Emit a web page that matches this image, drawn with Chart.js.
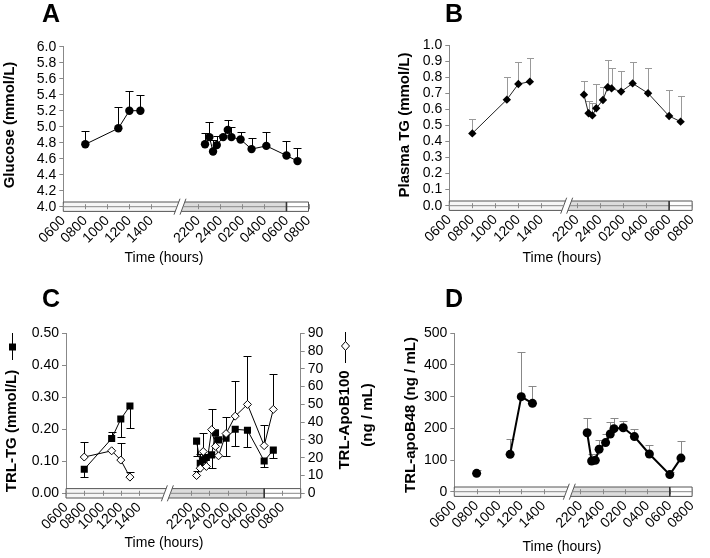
<!DOCTYPE html>
<html>
<head>
<meta charset="utf-8">
<script src="https://cdn.jsdelivr.net/npm/chart.js@4.4.1/dist/chart.umd.min.js"></script>
<style>
  body { margin: 0; background: #fff; }
  #fig { position: relative; width: 710px; height: 558px; background: #fff; overflow: hidden; }
  canvas { position: absolute; }
</style>
</head>
<body>
<div id="fig">
  <canvas id="chartA" width="355" height="279" style="left:0;top:0"></canvas>
  <canvas id="chartB" width="355" height="279" style="left:355px;top:0"></canvas>
  <canvas id="chartC" width="390" height="279" style="left:0;top:279px"></canvas>
  <canvas id="chartD" width="355" height="279" style="left:355px;top:279px"></canvas>
</div>
<script>
// ===== Time axis (clock hours, night continues past 24) =====
const clockTicks  = [6, 8, 10, 12, 14, 22, 24, 26, 28, 30, 32];
const clockLabels = ['0600', '0800', '1000', '1200', '1400', '2200', '2400', '0200', '0400', '0600', '0800'];
const lightsOn = 30; // 0600 next morning, end of the grey night band

const dayHours   = [8, 11, 12, 13];
const nightHours = [22.6, 23.0, 23.33, 23.67, 24.25, 24.67, 25.0, 25.83, 26.83, 28.17, 30.0, 31.0];

// ===== A: glucose (mmol/L) =====
const glucoseDay      = [4.78, 4.98, 5.20, 5.20];
const glucoseDayErr   = [4.95, 5.25, 5.45, 5.40];
const glucoseNight    = [4.78, 4.87, 4.69, 4.77, 4.87, 4.96, 4.87, 4.84, 4.72, 4.76, 4.64, 4.57];
const glucoseNightErr = [4.92, 5.06, 4.83, 4.88, 4.90, 5.08, 5.00, 4.93, 4.86, 4.93, 4.82, 4.74];
const glucoseTicks    = [4.0, 4.2, 4.4, 4.6, 4.8, 5.0, 5.2, 5.4, 5.6, 5.8, 6.0];

// ===== B: plasma TG (mmol/L) =====
const plasmaTgDay      = [0.45, 0.66, 0.757, 0.772];
const plasmaTgDayErr   = [0.537, 0.799, 0.896, 0.919];
const plasmaTgNight    = [0.691, 0.575, 0.562, 0.606, 0.658, 0.737, 0.73, 0.71, 0.761, 0.70, 0.558, 0.523];
const plasmaTgNightErr = [0.774, 0.654, 0.641, 0.757, 0.74, 0.905, 0.859, 0.836, 0.894, 0.859, 0.718, 0.68];
const plasmaTgTicks    = [0, 0.1, 0.2, 0.3, 0.4, 0.5, 0.6, 0.7, 0.8, 0.9, 1.0];

// ===== C: TRL-TG (mmol/L) and TRL-ApoB100 (ng/mL) =====
const trlTgDay      = [0.075, 0.171, 0.232, 0.273];
const trlTgDayErr   = [0.052, 0.193, 0.175, 0.203];
const trlTgNight    = [0.163, 0.094, 0.104, 0.112, 0.12, 0.189, 0.167, 0.172, 0.20, 0.197, 0.101, 0.135];
const trlTgNightErr = [0.117, 0.08, null, null, 0.078, null, null, 0.117, 0.148, 0.144, 0.081, 0.109];
const trlTgTicks    = [0, 0.1, 0.2, 0.3, 0.4, 0.5];

const apoB100Day      = [20.4, 23.9, 18.7, 9.1];
const apoB100DayErr   = [28.6, null, 28.3, 12.2];
const apoB100Night    = [10.0, 14.1, 23.5, 15.1, 35.8, 26.4, 21.1, 33.6, 43.4, 50.0, 26.8, 47.2];
const apoB100NightErr = [12.5, 22, 34, null, 47.7, null, null, 43, 63.2, 77.3, 38.7, 67];
const apoB100Ticks    = [0, 10, 20, 30, 40, 50, 60, 70, 80, 90];

// ===== D: TRL-apoB48 (ng/mL) =====
const apoB48Day      = [58, 118, 300, 279];
const apoB48DayErr   = [68, 165, 442, 335];
const apoB48Night    = [186, 97, 99, 134, 155, 182, 199, 202, 174, 119, 54, 106];
const apoB48NightErr = [232, 118, 118, 163, 182, 221, 232, 224, 197, 146, 63, 161];
const apoB48Ticks    = [0, 100, 200, 300, 400, 500];

Chart.defaults.font.family = '"Liberation Sans", Arial, Helvetica, sans-serif';
Chart.defaults.color = '#000';
Chart.defaults.animation = false;

// hours -> position on the broken axis (night part shifted left)
function axisPos(h, p) {
  return h < 18 ? h - 6 : p.at2200 + (h - 22);
}

function series(hours, values, errEnd, p, style) {
  return Object.assign({
    data: hours.map((h, i) => ({ x: axisPos(h, p), y: values[i] })),
    errEnd: errEnd,
    showLine: true,
    borderWidth: 1,
    pointBorderWidth: 0
  }, style);
}

// ===== drawing helpers: error bars, light/dark band, axis titles =====
function drawBandAndErrors(chart, p) {
  const ctx = chart.ctx;
  const xs = chart.scales.x, ys = chart.scales.y;
  const y0 = ys.getPixelForValue(ys.min);
  const h = 4.7, s = 1.8;
  const xL = xs.getPixelForValue(0), xR = xs.getPixelForValue(p.xMax);
  const xb = xs.getPixelForValue(p.breakAt);
  const b1 = xb - 3, b2 = xb + 3;
  const xOn = xs.getPixelForValue(axisPos(lightsOn, p));
  ctx.save();
  // day section
  ctx.beginPath();
  ctx.moveTo(xL, y0 - h); ctx.lineTo(b1 + s, y0 - h); ctx.lineTo(b1 - s, y0 + h); ctx.lineTo(xL, y0 + h); ctx.closePath();
  ctx.fillStyle = '#f6f6f6'; ctx.fill();
  // night section
  ctx.beginPath();
  ctx.moveTo(b2 + s, y0 - h); ctx.lineTo(xOn, y0 - h); ctx.lineTo(xOn, y0 + h); ctx.lineTo(b2 - s, y0 + h); ctx.closePath();
  ctx.fillStyle = '#dcdcdc'; ctx.fill();
  ctx.fillStyle = '#fff';
  ctx.fillRect(xOn, y0 - h, xR - xOn, 2 * h);
  // outlines
  ctx.strokeStyle = '#555'; ctx.lineWidth = 1;
  ctx.beginPath();
  ctx.moveTo(b1 + s, y0 - h); ctx.lineTo(xL, y0 - h); ctx.lineTo(xL, y0 + h); ctx.lineTo(b1 - s, y0 + h);
  ctx.moveTo(b2 + s, y0 - h); ctx.lineTo(xR, y0 - h); ctx.lineTo(xR, y0 + h); ctx.lineTo(b2 - s, y0 + h);
  ctx.stroke();
  // break marks
  ctx.beginPath();
  [b1, b2].forEach(b => { ctx.moveTo(b - 3, y0 + 8); ctx.lineTo(b + 3, y0 - 8); });
  ctx.stroke();
  // centre line and ticks
  ctx.strokeStyle = '#888';
  ctx.beginPath();
  ctx.moveTo(xL, y0); ctx.lineTo(b1, y0);
  ctx.moveTo(b2, y0); ctx.lineTo(xR, y0);
  clockTicks.forEach(t => {
    const x = Math.round(xs.getPixelForValue(axisPos(t, p))) + 0.5;
    ctx.moveTo(x, y0 - 2.5); ctx.lineTo(x, y0 + 2.5);
  });
  ctx.stroke();
  // lights-on divider
  ctx.strokeStyle = '#333'; ctx.lineWidth = 1.6;
  ctx.beginPath(); ctx.moveTo(xOn, y0 - h); ctx.lineTo(xOn, y0 + h); ctx.stroke();

  // error bars
  chart.data.datasets.forEach((ds, di) => {
    if (!ds.errEnd) return;
    const sc = chart.scales[ds.yAxisID || 'y'];
    const meta = chart.getDatasetMeta(di);
    ctx.strokeStyle = ds.errColor; ctx.lineWidth = 1;
    meta.data.forEach((pt, i) => {
      const e = ds.errEnd[i];
      if (e == null) return;
      const x = Math.round(pt.x) + 0.5;
      const ye = Math.round(sc.getPixelForValue(e)) + 0.5;
      ctx.beginPath();
      ctx.moveTo(x, pt.y); ctx.lineTo(x, ye);
      ctx.moveTo(x - p.cap, ye); ctx.lineTo(x + p.cap, ye);
      ctx.stroke();
    });
  });
  ctx.restore();
}

function drawTexts(chart, p) {
  const ctx = chart.ctx;
  ctx.save();
  ctx.fillStyle = '#000';
  ctx.font = 'bold 25px "Liberation Sans", Arial, sans-serif';
  ctx.textAlign = 'left'; ctx.textBaseline = 'alphabetic';
  ctx.fillText(p.letter, p.letterX, p.letterY);
  ctx.font = '14px "Liberation Sans", Arial, sans-serif';
  ctx.textAlign = 'center';
  ctx.fillText('Time (hours)', p.timeX, p.timeY);
  ctx.font = 'bold 15px "Liberation Sans", Arial, sans-serif';
  ctx.textBaseline = 'middle';
  p.titles.forEach(t => {
    ctx.save();
    ctx.translate(t.x, t.y);
    ctx.rotate(-Math.PI / 2);
    ctx.fillText(t.text, 0, 0);
    ctx.restore();
  });
  (p.keys || []).forEach(k => {
    ctx.strokeStyle = '#000'; ctx.lineWidth = 1;
    ctx.beginPath(); ctx.moveTo(k.x + 0.5, k.y1); ctx.lineTo(k.x + 0.5, k.y2); ctx.stroke();
    ctx.beginPath();
    if (k.shape === 'square') {
      ctx.rect(k.x - 3, k.ym - 3.5, 7, 7);
      ctx.fillStyle = '#000'; ctx.fill();
    } else {
      ctx.moveTo(k.x + 0.5, k.ym - 4.5); ctx.lineTo(k.x + 4.5, k.ym); ctx.lineTo(k.x + 0.5, k.ym + 4.5); ctx.lineTo(k.x - 3.5, k.ym); ctx.closePath();
      ctx.fillStyle = '#fff'; ctx.fill(); ctx.stroke();
    }
  });
  ctx.restore();
}

function yAxis(ticks, fmt, width, extra) {
  return Object.assign({
    type: 'linear',
    min: ticks[0],
    max: ticks[ticks.length - 1],
    afterBuildTicks: s => { s.ticks = ticks.map(v => ({ value: v })); },
    afterFit: s => { s.width = width; },
    grid: { drawOnChartArea: false, tickLength: 4, color: '#888' },
    border: { color: '#888' },
    ticks: { autoSkip: false, padding: 3, font: { size: 14 }, color: '#000', callback: v => fmt(v) }
  }, extra || {});
}

function makePanel(canvasId, p, datasets, scales) {
  return new Chart(document.getElementById(canvasId), {
    type: 'scatter',
    data: { datasets: datasets },
    options: {
      responsive: false,
      devicePixelRatio: 1,
      layout: { padding: p.pad },
      plugins: { legend: { display: false }, tooltip: { enabled: false } },
      scales: Object.assign({
        x: {
          type: 'linear',
          min: 0,
          max: p.xMax,
          grid: { display: false, drawTicks: false },
          border: { display: false },
          afterBuildTicks: s => { s.ticks = clockTicks.map(t => ({ value: axisPos(t, p) })); },
          afterFit: s => { s.height = p.xAxisH; },
          ticks: {
            autoSkip: false, minRotation: 45, maxRotation: 45, padding: 6,
            font: { size: 14 }, color: '#000',
            callback: (v, i) => clockLabels[i]
          }
        }
      }, scales)
    },
    plugins: [{
      id: 'deco',
      beforeDatasetsDraw: c => drawBandAndErrors(c, p),
      afterDraw: c => drawTexts(c, p)
    }]
  });
}

// ===== Panel A =====
const pA = {
  at2200: 12.27, breakAt: 10.6, xMax: 22.27, xAxisH: 72.3, cap: 4,
  pad: { top: 46.7, right: 46.5, bottom: 0, left: 0 },
  letter: 'A', letterX: 42, letterY: 22, timeX: 164, timeY: 262,
  titles: [{ text: 'Glucose (mmol/L)', x: 10, y: 125 }]
};
const styleA = { borderColor: '#000', pointBackgroundColor: '#000', pointStyle: 'circle', pointRadius: 4.2, errColor: '#000' };
makePanel('chartA', pA, [
  series(dayHours, glucoseDay, glucoseDayErr, pA, styleA),
  series(nightHours, glucoseNight, glucoseNightErr, pA, styleA)
], { y: yAxis(glucoseTicks, v => v.toFixed(1), 63.3) });

// ===== Panel B =====
const pB = {
  at2200: 11.1, breakAt: 10.2, xMax: 21.1, xAxisH: 73.3, cap: 3.5,
  pad: { top: 45, right: 15, bottom: 0, left: 0 },
  letter: 'B', letterX: 90, letterY: 22, timeX: 207, timeY: 262,
  titles: [{ text: 'Plasma TG (mmol/L)', x: 50, y: 125 }]
};
const styleB = { borderColor: '#222', pointBackgroundColor: '#000', pointStyle: 'rectRot', pointRadius: 4.2, errColor: '#999' };
makePanel('chartB', pB, [
  series(dayHours, plasmaTgDay, plasmaTgDayErr, pB, styleB),
  series(nightHours, plasmaTgNight, plasmaTgNightErr, pB, styleB)
], { y: yAxis(plasmaTgTicks, v => v.toFixed(1), 94.3) });

// ===== Panel C =====
const pC = {
  at2200: 13.7, breakAt: 11.1, xMax: 25.7, xAxisH: 64.7, cap: 4,
  pad: { top: 54.3, right: 35, bottom: 0, left: 0 },
  letter: 'C', letterX: 42, letterY: 28, timeX: 164, timeY: 268,
  titles: [
    { text: 'TRL-TG (mmol/L)', x: 12, y: 152 },
    { text: 'TRL-ApoB100', x: 345, y: 141 },
    { text: '(ng / mL)', x: 368, y: 136 }
  ],
  keys: [
    { x: 12, y1: 54, y2: 81, ym: 68, shape: 'square' },
    { x: 345, y1: 53, y2: 84, ym: 67, shape: 'diamond' }
  ]
};
const styleTg = { borderColor: '#000', pointBackgroundColor: '#000', pointStyle: 'rect', pointRadius: 5, errColor: '#000', yAxisID: 'y' };
const styleApo = { borderColor: '#000', pointBackgroundColor: '#fff', pointBorderColor: '#000', pointBorderWidth: 1, pointStyle: 'rectRot', pointRadius: 4, errColor: '#000', yAxisID: 'y2' };
makePanel('chartC', pC, [
  series(dayHours, apoB100Day, apoB100DayErr, pC, styleApo),
  series(nightHours, apoB100Night, apoB100NightErr, pC, styleApo),
  series(dayHours, trlTgDay, trlTgDayErr, pC, styleTg),
  series(nightHours, trlTgNight, trlTgNightErr, pC, styleTg)
], {
  y: yAxis(trlTgTicks, v => v.toFixed(2), 66),
  y2: yAxis(apoB100Ticks, v => String(v), 54.3, { position: 'right' })
});

// ===== Panel D =====
const pD = {
  at2200: 11.3, breakAt: 10.3, xMax: 21.3, xAxisH: 66.3, cap: 4,
  pad: { top: 54.3, right: 10, bottom: 0, left: 0 },
  letter: 'D', letterX: 90, letterY: 28, timeX: 207, timeY: 272,
  titles: [{ text: 'TRL-apoB48 (ng / mL)', x: 56, y: 136 }]
};
const styleD = { borderColor: '#000', borderWidth: 2, pointBackgroundColor: '#000', pointStyle: 'circle', pointRadius: 4.5, errColor: '#888' };
makePanel('chartD', pD, [
  series(dayHours, apoB48Day, apoB48DayErr, pD, Object.assign({}, styleD, {
    segment: { borderColor: c => c.p0DataIndex === 0 ? 'rgba(0,0,0,0)' : '#000' }
  })),
  series(nightHours, apoB48Night, apoB48NightErr, pD, styleD)
], { y: yAxis(apoB48Ticks, v => String(v), 99.3) });
</script>
</body>
</html>
